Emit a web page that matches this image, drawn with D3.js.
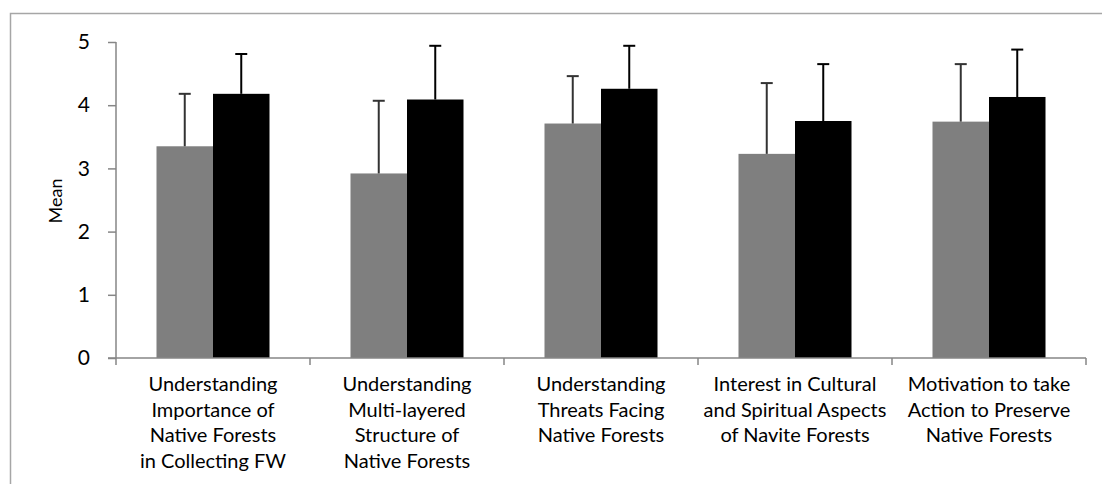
<!DOCTYPE html>
<html><head><meta charset="utf-8">
<script src="https://cdn.jsdelivr.net/npm/d3@7"></script>
<style>body{margin:0;background:#fff}svg{display:block}</style>
</head><body>
<svg id="c" width="1102" height="484"></svg>
<script>
const categories = [
  ["Understanding","Importance of","Native Forests","in Collecting FW"],
  ["Understanding","Multi-layered","Structure of","Native Forests"],
  ["Understanding","Threats Facing","Native Forests"],
  ["Interest in Cultural","and Spiritual Aspects","of Navite Forests"],
  ["Motivation to take","Action to Preserve","Native Forests"]
];
const seriesNames = ["Series A","Series B"];
const meanA = [3.35, 2.92, 3.71, 3.23, 3.74];
const sdA   = [0.83, 1.15, 0.75, 1.12, 0.91];
const meanB = [4.18, 4.09, 4.26, 3.75, 4.13];
const sdB   = [0.63, 0.85, 0.68, 0.90, 0.75];
const yTicks = [0,1,2,3,4,5];
const colors = ["#7f7f7f","#000000"];
const errColors = ["#333333","#000000"];

const svg = d3.select("#c");
const font = "Lato, 'Open Sans', sans-serif";
// frame
svg.append("path").attr("d","M10.5,484 V13.5 H1102").attr("fill","none").attr("stroke","#a6a6a6").attr("stroke-width",1.5);

const x0 = 116, x1 = 1086, yTop = 42, yBot = 358;
const x = d3.scaleBand().domain(d3.range(categories.length)).range([x0,x1]).paddingInner(0).paddingOuter(0);
const y = d3.scaleLinear().domain([0,5]).range([yBot,yTop]);
const barW = 56.5;

// y axis
const ya = svg.append("g").attr("transform",`translate(${x0},0)`)
  .call(d3.axisLeft(y).tickValues(yTicks).tickSize(8).tickPadding(18).tickFormat(d3.format("d")));
ya.selectAll("path,line").attr("stroke","#868686").attr("stroke-width",1.5);
ya.select(".domain").attr("d",`M0,${yTop}V${yBot}`);
ya.selectAll("text").attr("font-family",font).attr("font-size",21).attr("fill","#000");

// bars
const series = [meanA, meanB], sds = [sdA, sdB];
series.forEach((vals,si)=>{
  const g = svg.append("g");
  g.selectAll("rect").data(vals).join("rect")
    .attr("x",(d,i)=>x(i)+x.bandwidth()/2 - barW + si*barW)
    .attr("width",barW)
    .attr("y",d=>y(d)).attr("height",d=>yBot-y(d))
    .attr("fill",colors[si]);
  const e = svg.append("g").attr("stroke",errColors[si]).attr("stroke-width",2);
  vals.forEach((d,i)=>{
    const cx = x(i)+x.bandwidth()/2 - barW/2 + si*barW;
    e.append("line").attr("x1",cx).attr("x2",cx).attr("y1",y(d)).attr("y2",y(d+sds[si][i]));
    e.append("line").attr("x1",cx-6).attr("x2",cx+6).attr("y1",y(d+sds[si][i])).attr("y2",y(d+sds[si][i]));
  });
});

// x axis
const xa = svg.append("g").attr("transform",`translate(0,${yBot})`);
xa.append("line").attr("x1",x0-8).attr("x2",x1).attr("stroke","#868686").attr("stroke-width",1.5);
const bounds = categories.map((c,i)=>x(i)).concat([x1]);
xa.selectAll("line.t").data(bounds).join("line").attr("class","t")
  .attr("x1",d=>d).attr("x2",d=>d).attr("y1",0).attr("y2",7).attr("stroke","#868686").attr("stroke-width",1.5);
categories.forEach((lines,i)=>{
  const t = xa.append("text").attr("text-anchor","middle").attr("font-family",font)
    .attr("font-size",20).attr("fill","#000");
  lines.forEach((l,j)=>t.append("tspan").attr("x",x(i)+x.bandwidth()/2).attr("y",33+j*25.5).text(l));
});

// y label
svg.append("text").attr("transform","translate(62,201) rotate(-90)").attr("text-anchor","middle")
  .attr("font-family",font).attr("font-size",18).attr("fill","#000").text("Mean");
</script>
</body></html>
